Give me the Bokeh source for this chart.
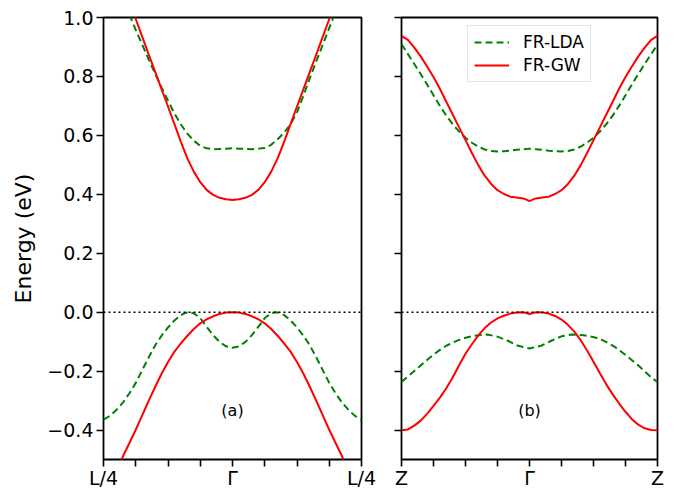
from bokeh.plotting import figure
from bokeh.layouts import row
from bokeh.models import Range1d, FixedTicker, Span, Label, Legend, LegendItem
from bokeh.embed import file_html
from bokeh.resources import INLINE

# ---------------- data (k: fraction of half path, Gamma at 0) ----------------
# panel (a): L/4 - Gamma - L/4
A_LDA_COND_K = [-0.80, -0.75, -0.70, -0.65, -0.60, -0.55, -0.50, -0.45, -0.40, -0.35, -0.30, -0.25, -0.20,
                -0.15, -0.10, -0.05, 0.0, 0.05, 0.10, 0.15, 0.20, 0.25, 0.30, 0.35, 0.40, 0.45, 0.50,
                0.55, 0.60, 0.65, 0.70, 0.75, 0.80]
A_LDA_COND_E = [1.010, 0.958, 0.908, 0.858, 0.810, 0.763, 0.718, 0.674, 0.637, 0.606, 0.582, 0.564, 0.556,
                0.553, 0.554, 0.555, 0.556, 0.555, 0.554, 0.553, 0.555, 0.557, 0.568, 0.587, 0.609, 0.638, 0.678,
                0.735, 0.795, 0.852, 0.908, 0.965, 1.020]
A_GW_COND_K = [-0.78, -0.75, -0.70, -0.65, -0.60, -0.55, -0.50, -0.45, -0.40, -0.35, -0.30, -0.25, -0.20,
               -0.15, -0.10, -0.05, 0.0, 0.05, 0.10, 0.15, 0.20, 0.25, 0.30, 0.35, 0.40, 0.45, 0.50,
               0.55, 0.60, 0.65, 0.70, 0.75, 0.78]
A_GW_COND_E = [1.030, 0.995, 0.935, 0.875, 0.816, 0.757, 0.698, 0.638, 0.578, 0.522, 0.477, 0.441, 0.415,
               0.398, 0.388, 0.383, 0.381, 0.383, 0.388, 0.398, 0.415, 0.441, 0.477, 0.522, 0.578, 0.638, 0.698,
               0.757, 0.816, 0.875, 0.935, 0.995, 1.030]
A_LDA_VAL_K = [-1.0, -0.95, -0.90, -0.85, -0.80, -0.75, -0.70, -0.65, -0.60, -0.55, -0.50, -0.45, -0.40,
               -0.37, -0.335, -0.30, -0.25, -0.20, -0.15, -0.10, -0.05, 0.0, 0.05, 0.10, 0.15, 0.20, 0.25,
               0.30, 0.335, 0.37, 0.40, 0.45, 0.50, 0.55, 0.60, 0.65, 0.70, 0.75, 0.80, 0.85, 0.90, 0.95, 1.0]
A_LDA_VAL_E = [-0.365, -0.352, -0.332, -0.307, -0.276, -0.240, -0.197, -0.154, -0.113, -0.080, -0.052, -0.028,
               -0.010, -0.003, 0.0, -0.004, -0.020, -0.050, -0.078, -0.101, -0.116, -0.121, -0.116, -0.101,
               -0.078, -0.050, -0.020, -0.004, 0.0, -0.003, -0.010, -0.028, -0.052, -0.080, -0.113, -0.154,
               -0.197, -0.240, -0.276, -0.307, -0.332, -0.352, -0.365]
A_GW_VAL_K = [-0.88, -0.85, -0.80, -0.75, -0.70, -0.65, -0.60, -0.55, -0.50, -0.45, -0.40, -0.35, -0.30,
              -0.25, -0.20, -0.15, -0.10, -0.05, 0.0, 0.05, 0.10, 0.15, 0.20, 0.25, 0.30, 0.35, 0.40,
              0.45, 0.50, 0.55, 0.60, 0.65, 0.70, 0.75, 0.80, 0.85, 0.88]
A_GW_VAL_E = [-0.520, -0.490, -0.445, -0.399, -0.350, -0.301, -0.254, -0.209, -0.169, -0.134, -0.106, -0.080,
              -0.057, -0.038, -0.024, -0.014, -0.006, -0.0015, 0.0, -0.0015, -0.006, -0.014, -0.024, -0.038,
              -0.057, -0.080, -0.106, -0.134, -0.169, -0.209, -0.254, -0.301, -0.350, -0.399, -0.445,
              -0.490, -0.520]

# panel (b): Z - Gamma - Z
B_LDA_COND_K = [-1.0, -0.95, -0.90, -0.85, -0.80, -0.75, -0.70, -0.65, -0.60, -0.55, -0.50, -0.45, -0.40,
                -0.35, -0.30, -0.25, -0.20, -0.15, -0.10, -0.05, 0.0, 0.05, 0.10, 0.15, 0.20, 0.25, 0.30,
                0.35, 0.40, 0.45, 0.50, 0.55, 0.60, 0.65, 0.70, 0.75, 0.80, 0.85, 0.90, 0.95, 1.0]
B_LDA_COND_E = [0.910, 0.876, 0.842, 0.808, 0.773, 0.736, 0.700, 0.667, 0.638, 0.613, 0.592, 0.575, 0.562,
                0.552, 0.547, 0.545, 0.546, 0.548, 0.551, 0.553, 0.555, 0.553, 0.551, 0.548, 0.546, 0.545,
                0.547, 0.552, 0.562, 0.575, 0.592, 0.613, 0.638, 0.667, 0.700, 0.736, 0.773, 0.808, 0.842,
                0.876, 0.908]
B_GW_COND_K = [-1.0, -0.95, -0.90, -0.85, -0.80, -0.75, -0.70, -0.65, -0.60, -0.55, -0.50, -0.45, -0.40,
               -0.35, -0.30, -0.25, -0.20, -0.15, -0.10, -0.05, -0.02, 0.0, 0.02, 0.05, 0.10, 0.15, 0.20,
               0.25, 0.30, 0.35, 0.40, 0.45, 0.50, 0.55, 0.60, 0.65, 0.70, 0.75, 0.80, 0.85, 0.90, 0.95, 1.0]
B_GW_COND_E = [0.938, 0.924, 0.898, 0.868, 0.834, 0.798, 0.758, 0.714, 0.671, 0.627, 0.584, 0.540, 0.499,
               0.463, 0.435, 0.414, 0.401, 0.392, 0.389, 0.386, 0.381, 0.377, 0.381, 0.386, 0.389, 0.392,
               0.401, 0.414, 0.435, 0.463, 0.499, 0.540, 0.584, 0.627, 0.671, 0.714, 0.758, 0.798, 0.834,
               0.868, 0.898, 0.924, 0.938]
B_LDA_VAL_K = [-1.0, -0.95, -0.9, -0.85, -0.8, -0.75, -0.7, -0.65, -0.6, -0.55, -0.5, -0.45, -0.4, -0.33,
               -0.25, -0.17, -0.09, 0.0, 0.09, 0.17, 0.25, 0.33, 0.42, 0.47, 0.52, 0.57, 0.62, 0.67, 0.72,
               0.77, 0.82, 0.87, 0.91, 0.95, 1.0]
B_LDA_VAL_E = [-0.237, -0.218, -0.200, -0.181, -0.162, -0.144, -0.128, -0.114, -0.103, -0.094, -0.087, -0.082,
               -0.078, -0.076, -0.083, -0.097, -0.114, -0.123, -0.114, -0.097, -0.082, -0.076, -0.078, -0.082,
               -0.087, -0.095, -0.106, -0.119, -0.135, -0.152, -0.170, -0.189, -0.205, -0.221, -0.237]
B_GW_VAL_K = [-1.0, -0.95, -0.90, -0.85, -0.80, -0.75, -0.70, -0.65, -0.60, -0.55, -0.50, -0.45, -0.40,
              -0.35, -0.30, -0.25, -0.20, -0.15, -0.10, -0.07, -0.04, 0.0, 0.04, 0.07, 0.10, 0.15, 0.20,
              0.25, 0.30, 0.35, 0.40, 0.45, 0.50, 0.55, 0.60, 0.65, 0.70, 0.75, 0.80, 0.85, 0.90, 0.95, 1.0]
B_GW_VAL_E = [-0.401, -0.398, -0.385, -0.368, -0.345, -0.318, -0.290, -0.258, -0.222, -0.180, -0.141, -0.109,
              -0.079, -0.054, -0.035, -0.021, -0.012, -0.005, -0.001, 0.0, -0.001, -0.006, -0.001, 0.0, -0.001,
              -0.005, -0.013, -0.025, -0.043, -0.066, -0.095, -0.130, -0.168, -0.207, -0.245, -0.279, -0.310,
              -0.338, -0.363, -0.382, -0.394, -0.400, -0.401]

Y_TICKS = [-0.4, -0.2, 0.0, 0.2, 0.4, 0.6, 0.8, 1.0]
Y_TICK_LABELS = ["\u22120.4", "\u22120.2", "0.0", "0.2", "0.4", "0.6", "0.8", "1.0"]
K_TICKS = [-1.0, -0.75, -0.5, -0.25, 0.0, 0.25, 0.5, 0.75, 1.0]
A_K_LABELS = ["L/4", "", "", "", "\u0393", "", "", "", "L/4"]
B_K_LABELS = ["Z", "", "", "", "\u0393", "", "", "", "Z"]
PANEL_TAGS = ["(a)", "(b)"]
SERIES_NAMES = ["FR-LDA", "FR-GW"]
Y_LABEL = "Energy (eV)"

GREEN = "#008000"
RED = "#ff0000"
FONT = "DejaVu Sans"


def make_panel(width, mbl, mbr, k_labels, show_y_labels):
    p = figure(width=width, height=491, x_range=Range1d(-1, 1), y_range=Range1d(-0.5, 1.0),
               output_backend="svg", toolbar_location=None,
               min_border_left=mbl, min_border_right=mbr, min_border_top=17, min_border_bottom=32)
    p.grid.visible = False
    p.background_fill_color = "white"
    p.border_fill_color = "white"
    p.outline_line_color = "black"
    p.outline_line_width = 1.8
    p.outline_line_alpha = 1.0
    for ax in (p.xaxis[0], p.yaxis[0]):
        ax.axis_line_color = None
        ax.major_tick_line_color = "black"
        ax.major_tick_line_width = 1.6
        ax.major_tick_in = 0
        ax.major_tick_out = 7
        ax.minor_tick_line_color = None
        ax.major_label_text_font = FONT
        ax.major_label_text_font_size = "19px"
        ax.major_label_text_color = "black"
        ax.major_label_standoff = 3
    p.xaxis[0].major_label_standoff = 0
    p.xaxis[0].ticker = FixedTicker(ticks=K_TICKS)
    p.xaxis[0].major_label_overrides = dict(zip(K_TICKS, k_labels))
    p.yaxis[0].ticker = FixedTicker(ticks=Y_TICKS)
    if show_y_labels:
        p.yaxis[0].major_label_overrides = dict(zip(Y_TICKS, Y_TICK_LABELS))
        p.yaxis[0].axis_label = Y_LABEL
        p.yaxis[0].axis_label_text_font = FONT
        p.yaxis[0].axis_label_text_font_size = "22px"
        p.yaxis[0].axis_label_text_font_style = "normal"
        p.yaxis[0].axis_label_text_color = "black"
        p.yaxis[0].axis_label_standoff = 8
    else:
        p.yaxis[0].major_label_overrides = {t: "" for t in Y_TICKS}
    p.add_layout(Span(location=0, dimension="width", line_color="black", line_width=1.5,
                      line_dash="2 3"))
    return p


pa = make_panel(381, 103, 20, A_K_LABELS, True)
pb = make_panel(286, 20, 10, B_K_LABELS, False)

DASH = "7 4"
LW = 2.0

pa.line(A_LDA_COND_K, A_LDA_COND_E, line_color=GREEN, line_width=LW, line_dash=DASH)
pa.line(A_LDA_VAL_K, A_LDA_VAL_E, line_color=GREEN, line_width=LW, line_dash=DASH)
pa.line(A_GW_COND_K, A_GW_COND_E, line_color=RED, line_width=LW)
pa.line(A_GW_VAL_K, A_GW_VAL_E, line_color=RED, line_width=LW)

rb1 = pb.line(B_LDA_COND_K, B_LDA_COND_E, line_color=GREEN, line_width=LW, line_dash=DASH)
pb.line(B_LDA_VAL_K, B_LDA_VAL_E, line_color=GREEN, line_width=LW, line_dash=DASH)
rb2 = pb.line(B_GW_COND_K, B_GW_COND_E, line_color=RED, line_width=LW)
pb.line(B_GW_VAL_K, B_GW_VAL_E, line_color=RED, line_width=LW)

for p, tag in ((pa, PANEL_TAGS[0]), (pb, PANEL_TAGS[1])):
    p.add_layout(Label(x=0, y=-0.334, text=tag, text_align="center", text_baseline="middle",
                       text_font=FONT, text_font_size="16px", text_color="black"))

legend = Legend(items=[LegendItem(label=SERIES_NAMES[0], renderers=[rb1]),
                       LegendItem(label=SERIES_NAMES[1], renderers=[rb2])],
                location="top_center", margin=8, padding=6, spacing=3,
                glyph_width=35, glyph_height=20, label_height=20, label_standoff=14,
                label_text_font=FONT, label_text_font_size="17px", label_text_color="black",
                border_line_color="#cccccc", border_line_width=1.2,
                background_fill_color="white", background_fill_alpha=0.85)
pb.add_layout(legend)

layout = row(pa, pb)
open("out.html", "w").write(file_html(layout, INLINE))
